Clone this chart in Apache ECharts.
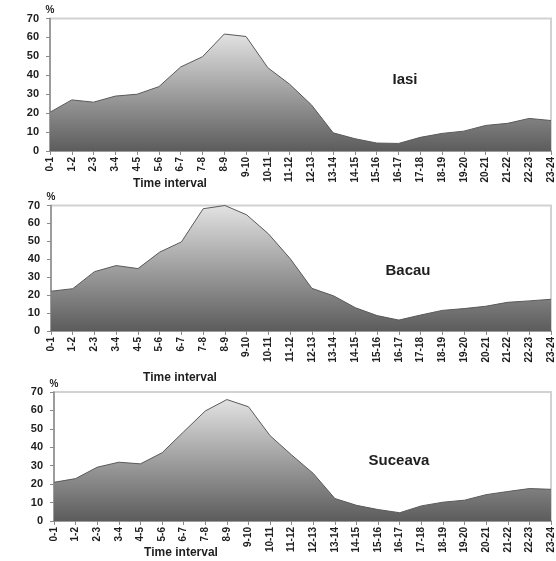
<!DOCTYPE html>
<html>
<head>
<meta charset="utf-8">
<script src="https://cdn.jsdelivr.net/npm/echarts@6/dist/echarts.min.js"></script>
<style>
  html, body { margin: 0; padding: 0; background: #fff; }
  #chart { width: 556px; height: 561px; }
</style>
</head>
<body>
<div id="chart"></div>
<script>
// Hourly share (%) by time interval for three cities
var intervals = ['0-1','1-2','2-3','3-4','4-5','5-6','6-7','7-8','8-9','9-10','10-11','11-12',
                 '12-13','13-14','14-15','15-16','16-17','17-18','18-19','19-20','20-21','21-22','22-23','23-24'];

var iasi    = [20.5, 27, 25.8, 29, 30, 34, 44.4, 49.8, 61.8, 60.5, 44, 35.3,
               24.4, 9.6, 6.5, 4.2, 4, 7.2, 9.3, 10.5, 13.5, 14.6, 17.2, 16.1];
var bacau   = [22.2, 23.6, 33.1, 36.5, 34.8, 44, 49.7, 68.2, 70, 64.8, 54.2, 40.4,
               23.8, 19.6, 13, 8.6, 6.1, 8.9, 11.5, 12.5, 13.8, 16, 16.8, 17.7];
var suceava = [21, 23, 29.2, 31.9, 31, 37, 48.4, 59.7, 65.9, 62, 46.3, 35.8,
               25.8, 12.2, 8.5, 6.2, 4.5, 8.2, 10.2, 11.3, 14.3, 16, 17.6, 17.2];

var cities = ['Iasi', 'Bacau', 'Suceava'];
var seriesData = [iasi, bacau, suceava];
var yTicks = { min: 0, max: 70, interval: 10 };

// panel geometry
var panels = [
  { left: 50, top: 18.5, height: 132.5, cityX: 405, cityY: 80,  tiX: 170, tiY: 184 },
  { left: 51, top: 205.5, height: 125.5, cityX: 408, cityY: 271, tiX: 180, tiY: 378 },
  { left: 54, top: 392, height: 129,   cityX: 399, cityY: 461, tiX: 181, tiY: 553 }
];

var FONT = '"Liberation Sans", Arial, sans-serif';
var textColor = '#1e1e1e';

var grids = [], xAxes = [], yAxes = [], series = [], graphics = [];

panels.forEach(function (p, i) {
  grids.push({
    left: p.left, right: 5, top: p.top, height: p.height,
    show: true, borderColor: '#d2d2d2', borderWidth: 2, backgroundColor: 'transparent'
  });
  xAxes.push({
    type: 'category', gridIndex: i, data: intervals, boundaryGap: false,
    axisLine: { lineStyle: { color: '#8a8a8a', width: 1.5 } },
    axisTick: { show: true, length: 4, lineStyle: { color: '#8a8a8a' } },
    axisLabel: { rotate: 90, interval: 0, margin: 6, fontFamily: FONT, fontWeight: 'bold',
                 fontSize: 10, color: textColor },
    splitLine: { show: false }
  });
  yAxes.push({
    type: 'value', gridIndex: i, min: yTicks.min, max: yTicks.max, interval: yTicks.interval,
    name: '%', nameLocation: 'end', nameGap: 3,
    nameTextStyle: { fontFamily: FONT, fontWeight: 'bold', fontSize: 10, color: textColor, align: 'center' },
    axisLine: { show: true, lineStyle: { color: '#8a8a8a', width: 1.5 } },
    axisTick: { show: true, length: 4, lineStyle: { color: '#8a8a8a' } },
    axisLabel: { margin: 11, fontFamily: FONT, fontWeight: 'bold', fontSize: 11, color: textColor },
    splitLine: { show: false }
  });
  series.push({
    type: 'line', xAxisIndex: i, yAxisIndex: i, data: seriesData[i],
    symbol: 'none', smooth: false,
    lineStyle: { color: '#5a5a5a', width: 1 },
    areaStyle: {
      opacity: 1,
      color: new echarts.graphic.LinearGradient(0, 0, 0, 1, [
        { offset: 0, color: '#e2e2e2' },
        { offset: 1, color: '#5c5c5c' }
      ])
    }
  });
  graphics.push({
    type: 'text', left: p.cityX, top: p.cityY,
    style: { text: cities[i], font: 'bold 15px ' + FONT, fill: textColor,
             textAlign: 'center', textVerticalAlign: 'middle' }
  });
  graphics.push({
    type: 'text', x: p.tiX, y: p.tiY,
    style: { text: 'Time interval', font: 'bold 12px ' + FONT, fill: textColor,
             textAlign: 'center', textVerticalAlign: 'middle' }
  });
});

// position graphics by absolute x/y
graphics.forEach(function (g) {
  if (g.left !== undefined) { g.x = g.left; g.y = g.top; delete g.left; delete g.top; }
});

var chart = echarts.init(document.getElementById('chart'), null, { renderer: 'canvas' });
chart.setOption({
  animation: false,
  backgroundColor: '#ffffff',
  grid: grids,
  xAxis: xAxes,
  yAxis: yAxes,
  series: series,
  graphic: graphics
});
</script>
</body>
</html>
